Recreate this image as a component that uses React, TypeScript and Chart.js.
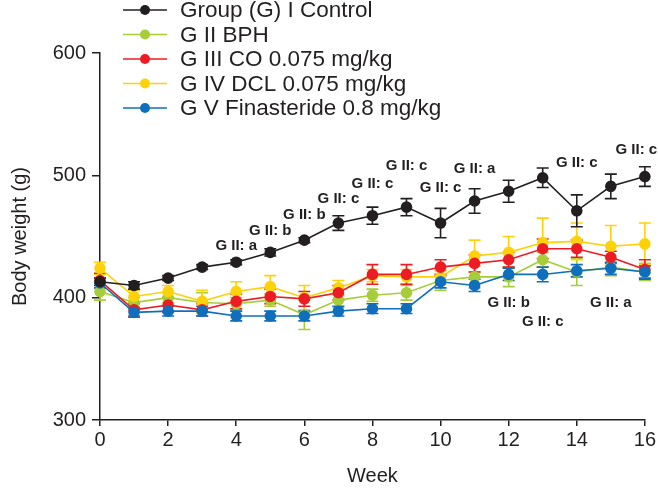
import React, { useEffect, useRef } from "react";
import { Chart, registerables } from "chart.js";

Chart.register(...registerables);

const weeks = [0, 1, 2, 3, 4, 5, 6, 7, 8, 9, 10, 11, 12, 13, 14, 15, 16];

const seriesLabels = [
  "Group (G) I Control",
  "G II BPH",
  "G III CO 0.075 mg/kg",
  "G IV DCL 0.075 mg/kg",
  "G V Finasteride 0.8 mg/kg",
];
const seriesColors = ["#231f20", "#a6ce39", "#ed1c24", "#fdd20a", "#0f6fbd"];

const controlValues = [413, 410, 416, 425, 429, 437, 447, 461, 467, 474, 461, 479, 487, 498, 471, 491, 499];
const bphValues = [405, 396, 400, 396, 395, 398, 386, 398, 402, 404, 414, 417, 417, 431, 421, 425, 421];
const coValues = [414, 390, 394, 390, 397, 401, 399, 404, 419, 419, 425, 428, 431, 440, 440, 433, 423];
const dclValues = [424, 401, 405, 397, 405, 409, 400, 408, 418, 417, 417, 434, 437, 445, 446, 442, 444];
const finValues = [412, 388, 389, 389, 385, 385, 385, 389, 391, 391, 413, 410, 419, 419, 422, 424, 421];

const controlErr = [3, 3, 2, 2, 2, 3, 2, 6, 7, 7, 12, 10, 9, 8, 13, 10, 8];
const bphErr = [7, 4, 4, 8, 5, 5, 12, 6, 5, 6, 8, 9, 8, 6, 11, 7, 7];
const coErr = [6, 5, 6, 5, 6, 6, 6, 6, 8, 8, 6, 7, 6, 8, 7, 5, 8];
const dclErr = [5, 5, 5, 9, 8, 9, 10, 6, 5, 6, 6, 13, 13, 20, 15, 17, 17];
const finErr = [4, 4, 4, 4, 4, 4, 4, 4, 4, 4, 5, 5, 5, 6, 5, 5, 5];

const seriesValues = [controlValues, bphValues, coValues, dclValues, finValues];
const seriesErrors = [controlErr, bphErr, coErr, dclErr, finErr];
const seriesOrder = [0, 4, 2, 3, 1];

const annotationWeeks = [4, 5, 6, 7, 8, 9, 10, 11, 14, 15.75, 12, 13, 15];
const annotationValues = [442, 455, 468, 481, 493, 508, 490, 505, 510, 521, 396, 380, 396];
const annotationTexts = [
  "G II: a", "G II: b", "G II: b", "G II: c", "G II: c", "G II: c", "G II: c",
  "G II: a", "G II: c", "G II: c", "G II: b", "G II: c", "G II: a",
];

const yTicks = [300, 400, 500, 600];
const xTicks = [0, 2, 4, 6, 8, 10, 12, 14, 16];

const FONT = "'Liberation Sans', Arial, Helvetica, sans-serif";
const AXIS_COLOR = "#231f20";

const errorBarPlugin = {
  id: "errorBars",
  beforeDatasetsDraw(chart: any) {
    const ctx = chart.ctx;
    const yScale = chart.scales.y;
    const order = [...seriesOrder.keys()].sort((a, b) => seriesOrder[b] - seriesOrder[a]);
    for (const i of order) {
      const meta = chart.getDatasetMeta(i);
      ctx.save();
      ctx.strokeStyle = seriesColors[i];
      ctx.lineWidth = 1.6;
      meta.data.forEach((pt: any, j: number) => {
        const v = seriesValues[i][j];
        const e = seriesErrors[i][j];
        const yt = yScale.getPixelForValue(v + e);
        const yb = yScale.getPixelForValue(v - e);
        ctx.beginPath();
        ctx.moveTo(pt.x, yt);
        ctx.lineTo(pt.x, yb);
        ctx.moveTo(pt.x - 6, yt);
        ctx.lineTo(pt.x + 6, yt);
        ctx.moveTo(pt.x - 6, yb);
        ctx.lineTo(pt.x + 6, yb);
        ctx.stroke();
      });
      ctx.restore();
    }
  },
};

const annotationPlugin = {
  id: "annotations",
  afterDatasetsDraw(chart: any) {
    const ctx = chart.ctx;
    const xs = chart.scales.x;
    const ys = chart.scales.y;
    ctx.save();
    ctx.font = `bold 15px ${FONT}`;
    ctx.fillStyle = AXIS_COLOR;
    ctx.textAlign = "center";
    ctx.textBaseline = "middle";
    annotationTexts.forEach((t, k) => {
      ctx.fillText(t, xs.getPixelForValue(annotationWeeks[k]), ys.getPixelForValue(annotationValues[k]));
    });
    ctx.restore();
  },
};

const legendPlugin = {
  id: "customLegend",
  afterDraw(chart: any) {
    const ctx = chart.ctx;
    ctx.save();
    ctx.font = `22.5px ${FONT}`;
    ctx.textBaseline = "middle";
    ctx.textAlign = "left";
    seriesLabels.forEach((label, i) => {
      const y = 10 + i * 24.5;
      ctx.strokeStyle = seriesColors[i];
      ctx.lineWidth = 1.6;
      ctx.beginPath();
      ctx.moveTo(123, y);
      ctx.lineTo(167, y);
      ctx.stroke();
      ctx.fillStyle = seriesColors[i];
      ctx.beginPath();
      ctx.arc(145, y, 5, 0, Math.PI * 2);
      ctx.fill();
      ctx.fillStyle = AXIS_COLOR;
      ctx.fillText(label, 180, y + 1);
    });
    ctx.restore();
  },
};

export default function App() {
  const ref = useRef<HTMLCanvasElement | null>(null);

  useEffect(() => {
    document.body.style.margin = "0";
    const canvas = ref.current;
    if (!canvas) return;
    const datasets = seriesLabels.map((label, i) => ({
      label,
      data: weeks.map((w, j) => ({ x: w, y: seriesValues[i][j] })),
      borderColor: seriesColors[i],
      backgroundColor: seriesColors[i],
      pointBackgroundColor: seriesColors[i],
      pointBorderColor: seriesColors[i],
      pointRadius: 5,
      borderWidth: 1.6,
      tension: 0,
      order: seriesOrder[i],
      clip: false as any,
    }));
    const chart = new Chart(canvas, {
      type: "line",
      data: { datasets },
      options: {
        responsive: false,
        animation: false,
        devicePixelRatio: 1,
        layout: { padding: { left: 0, right: 13, top: 53, bottom: 0 } },
        plugins: { legend: { display: false }, tooltip: { enabled: false } },
        scales: {
          x: {
            type: "linear",
            min: 0,
            max: 16,
            afterFit: (s: any) => { s.height = 69; },
            afterBuildTicks: (s: any) => { s.ticks = xTicks.map((v) => ({ value: v })); },
            grid: { display: true, drawOnChartArea: false, drawTicks: true, tickLength: 6, color: AXIS_COLOR, lineWidth: 1.5 },
            border: { display: true, color: AXIS_COLOR, width: 1.5 },
            ticks: { color: AXIS_COLOR, font: { family: FONT, size: 20 }, padding: 2, maxRotation: 0 },
            title: { display: true, text: "Week", color: AXIS_COLOR, font: { family: FONT, size: 20 }, padding: { top: 0, bottom: 1 } },
          },
          y: {
            type: "linear",
            min: 300,
            max: 600,
            afterFit: (s: any) => { s.width = 100; },
            afterBuildTicks: (s: any) => { s.ticks = yTicks.map((v) => ({ value: v })); },
            grid: { display: true, drawOnChartArea: false, drawTicks: true, tickLength: 8, color: AXIS_COLOR, lineWidth: 1.5 },
            border: { display: true, color: AXIS_COLOR, width: 1.5 },
            ticks: { color: AXIS_COLOR, font: { family: FONT, size: 20 }, padding: 6 },
            title: { display: true, text: "Body weight (g)", color: AXIS_COLOR, font: { family: FONT, size: 20 }, padding: { top: 8, bottom: 0 } },
          },
        },
      },
      plugins: [errorBarPlugin, annotationPlugin, legendPlugin],
    });
    return () => chart.destroy();
  }, []);

  return (
    <div style={{ width: 658, height: 489, background: "#fff" }}>
      <canvas ref={ref} width={658} height={489} />
    </div>
  );
}
